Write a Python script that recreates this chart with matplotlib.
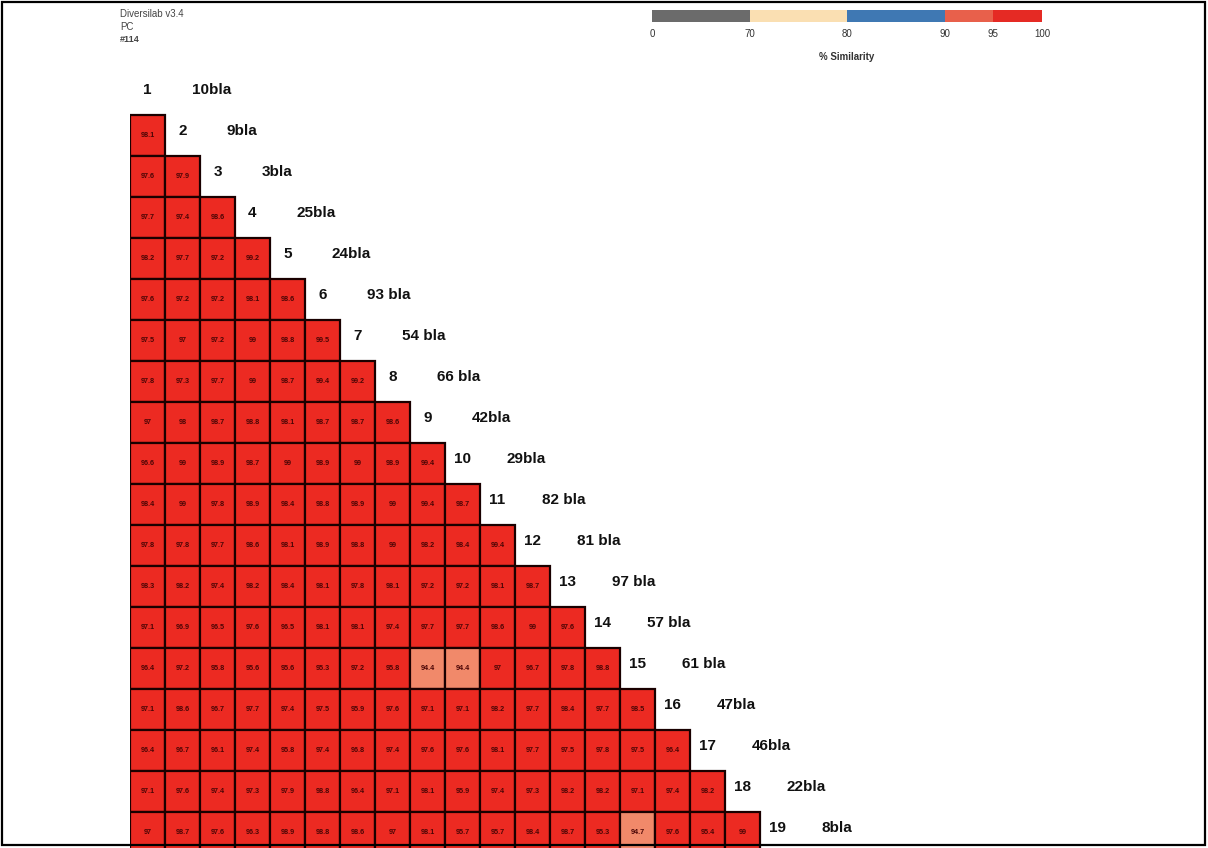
import matplotlib
matplotlib.use('Agg')
import matplotlib.pyplot as plt
from matplotlib.patches import Rectangle
import numpy as np

# strain ids (row label) and sample names
ids = list(range(1, 20))
names = ['10bla', '9bla', '3bla', '25bla', '24bla', '93 bla', '54 bla', '66 bla', '42bla',
         '29bla', '82 bla', '81 bla', '97 bla', '57 bla', '61 bla', '47bla', '46bla',
         '22bla', '8bla']

# lower triangle of % similarity, row i holds i-1 values
sim = [
    [],
    [98.1],
    [97.6, 97.9],
    [97.7, 97.4, 98.6],
    [98.2, 97.7, 97.2, 99.2],
    [97.6, 97.2, 97.2, 98.1, 98.6],
    [97.5, 97.0, 97.2, 99.0, 98.8, 99.5],
    [97.8, 97.3, 97.7, 99.0, 98.7, 99.4, 99.2],
    [97.0, 98.0, 98.7, 98.8, 98.1, 98.7, 98.7, 98.6],
    [96.6, 99.0, 98.9, 98.7, 99.0, 98.9, 99.0, 98.9, 99.4],
    [98.4, 99.0, 97.8, 98.9, 98.4, 98.8, 98.9, 99.0, 99.4, 98.7],
    [97.8, 97.8, 97.7, 98.6, 98.1, 98.9, 98.8, 99.0, 98.2, 98.4, 99.4],
    [98.3, 98.2, 97.4, 98.2, 98.4, 98.1, 97.8, 98.1, 97.2, 97.2, 98.1, 98.7],
    [97.1, 96.9, 96.5, 97.6, 96.5, 98.1, 98.1, 97.4, 97.7, 97.7, 98.6, 99.0, 97.6],
    [96.4, 97.2, 95.8, 95.6, 95.6, 95.3, 97.2, 95.8, 94.4, 94.4, 97.0, 96.7, 97.8, 98.8],
    [97.1, 98.6, 96.7, 97.7, 97.4, 97.5, 95.9, 97.6, 97.1, 97.1, 98.2, 97.7, 98.4, 97.7, 98.5],
    [96.4, 96.7, 96.1, 97.4, 95.8, 97.4, 96.8, 97.4, 97.6, 97.6, 98.1, 97.7, 97.5, 97.8, 97.5, 96.4],
    [97.1, 97.6, 97.4, 97.3, 97.9, 98.8, 96.4, 97.1, 98.1, 95.9, 97.4, 97.3, 98.2, 98.2, 97.1, 97.4, 98.2],
    [97.0, 98.7, 97.6, 96.3, 98.9, 98.8, 98.6, 97.0, 98.1, 95.7, 95.7, 98.4, 98.7, 95.3, 94.7, 97.6, 95.4, 99.0],
]

# colour scale
breaks = [0, 70, 80, 90, 95, 100]
bar_colors = ['#6b6b6b', '#fadfb2', '#3f78b3', '#e8604b', '#e52a24']
cell_colors = ['#6b6b6b', '#fadfb2', '#3f78b3', '#f1896a', '#ec2a22']
bar_pos = [0, 1, 2, 3, 3.5, 4]


def cell_color(v):
    for k in range(len(breaks) - 1):
        if v < breaks[k + 1]:
            return cell_colors[k]
    return cell_colors[-1]


W, H = 1208, 848
fig = plt.figure(figsize=(W / 100, H / 100), dpi=100)
plt.rcParams['font.family'] = ['Liberation Sans', 'DejaVu Sans']

# matrix axes, one unit per cell (35 x 41 px)
cw, ch = 35, 41
left, top = 130, 74
ax = fig.add_axes([left / W, 0, 1 - left / W, 1 - top / H])
ax.set_xlim(0, (W - left) / cw)
ax.set_ylim((H - top) / ch, 0)
ax.axis('off')

for i, row in enumerate(sim):
    for j, v in enumerate(row):
        ax.add_patch(Rectangle((j, i), 1, 1, facecolor=cell_color(v),
                               edgecolor='#1a0000', linewidth=1.6))
        ax.text(j + 0.5, i + 0.5, f'{v:g}', ha='center', va='center',
                fontsize=5.2, fontweight='bold', color='#4a0505')

for i, (n, name) in enumerate(zip(ids, names)):
    ax.text(i + 0.5, i + 0.4, str(n), ha='center', va='center',
            fontsize=11, fontweight='bold', color='#111111')
    ax.text(i + 0.5 + 1.27, i + 0.4, name, ha='left', va='center',
            fontsize=11, fontweight='bold', color='#111111')

# colour bar
cax = fig.add_axes([652 / W, 1 - 22 / H, (1042 - 652) / W, 12 / H])
for k in range(len(bar_colors)):
    cax.barh(0, bar_pos[k + 1] - bar_pos[k], left=bar_pos[k], height=1,
             color=bar_colors[k])
cax.set_xlim(0, 4)
cax.set_ylim(-0.5, 0.5)
cax.axis('off')
for p, b in zip(bar_pos, breaks):
    cax.text(p, -1.5, str(b), ha='center', va='center', fontsize=7, color='#333333')
cax.text(2, -3.4, '% Similarity', ha='center', va='center', fontsize=7,
         color='#333333', fontweight='bold')

# header
fig.text(120 / W, 1 - 14 / H, 'Diversilab v3.4', fontsize=7, color='#444444', va='center')
fig.text(120 / W, 1 - 27 / H, 'PC', fontsize=7, color='#444444', va='center')
fig.text(120 / W, 1 - 39 / H, '#114', fontsize=6.5, color='#444444', va='center',
         fontweight='bold')

# frame
fig.add_artist(Rectangle((2 / W, 3 / H), (W - 5) / W, (H - 5) / H,
                         transform=fig.transFigure, fill=False,
                         edgecolor='black', linewidth=1.6))

fig.savefig('out.png', dpi=100)
